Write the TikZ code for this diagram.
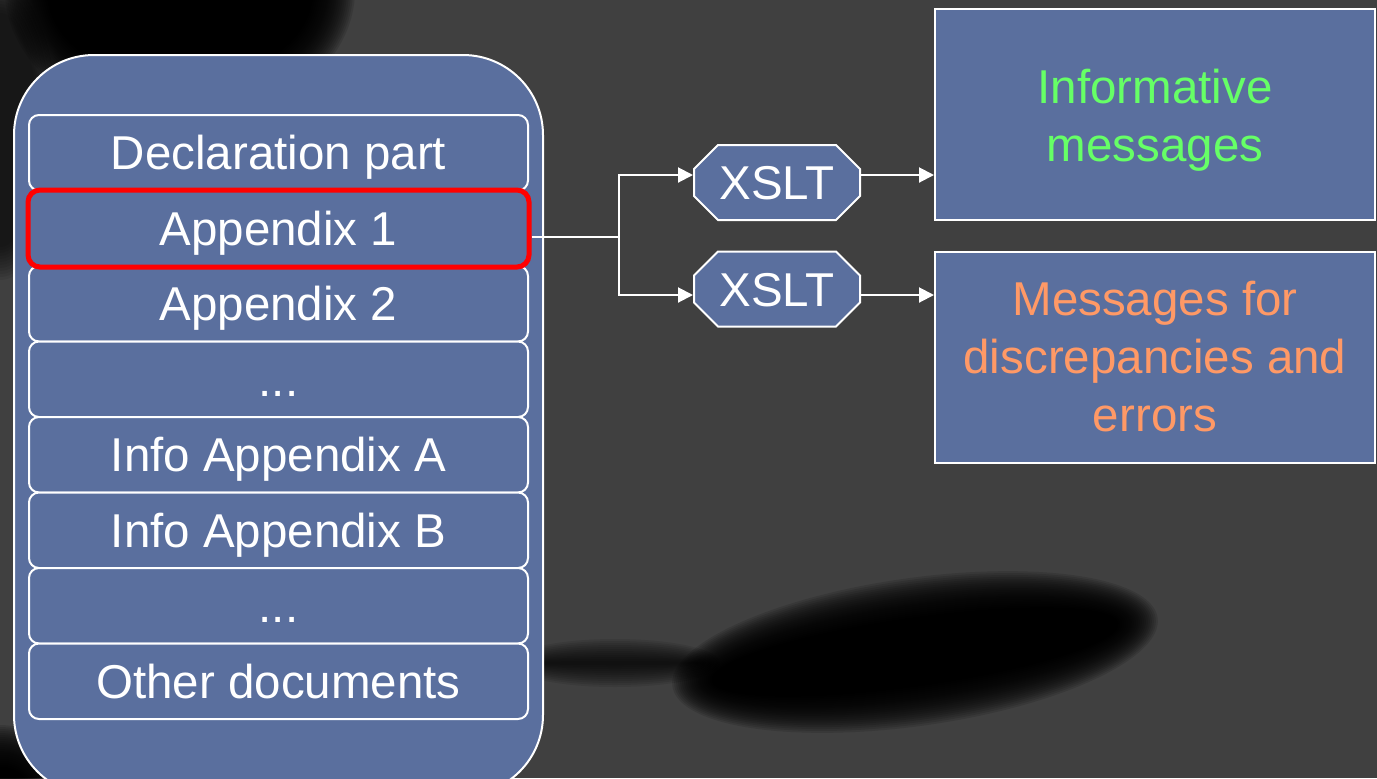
\documentclass[tikz,border=0pt]{standalone}
\usepackage{fontspec}
\setmainfont{Liberation Sans}
\usetikzlibrary{shapes.misc,arrows.meta}
\definecolor{bg}{HTML}{404040}
\definecolor{boxblue}{HTML}{5A6F9E}
\definecolor{msggreen}{HTML}{66FF66}
\definecolor{msgorange}{HTML}{FF9966}
\tikzset{
  container/.style={draw=white, line width=1pt, fill=boxblue, rounded corners=40pt,
    minimum width=264.5pt, minimum height=370pt, inner sep=0pt},
  rowbox/.style={draw=white, line width=1pt, fill=boxblue, rounded corners=5pt,
    minimum width=249.5pt, minimum height=37.75pt, inner sep=0pt, text=white,
    text height=17pt, text depth=0pt},
  hilite/.style={rowbox, draw=red, line width=2.5pt, rounded corners=6pt, minimum width=250.5pt, minimum height=38.5pt},
  xslt/.style={chamfered rectangle, chamfered rectangle xsep=11pt, draw=white, line width=1pt,
    fill=boxblue, minimum width=83pt, minimum height=37.5pt, inner sep=0pt, text=white,
    text height=17pt, text depth=0pt},
  msgbox/.style={draw=white, line width=1pt, fill=boxblue, minimum width=220pt,
    minimum height=105.5pt, inner sep=0pt, align=center},
  conn/.style={white, line width=1pt},
  arr/.style={conn, -{Triangle[length=7.5pt,width=7.5pt]}},
  haze/.style={black, opacity=#1},
  haze/.default=0.1
}
\begin{document}
\begin{tikzpicture}[x=0.5pt, y=-0.5pt, font=\fontsize{23.75}{29}\selectfont]
\useasboundingbox (0,0) rectangle (1377,778);
\begin{scope}
\clip (0,0) rectangle (1377,778);
\fill[bg] (0,0) rectangle (1377,778);
% background shadows (soft, built from stacked translucent ellipses)
\foreach \k in {0,...,11}
  \fill[haze=0.07] (0,130) ellipse ({60-2*\k} and {150-3*\k});
\foreach \k in {0,...,24}
  \fill[haze=0.11] (180,-10) ellipse ({175-2*\k} and {135-2*\k});
\foreach \k in {0,...,24}
  \fill[haze=0.11] (0,800) ellipse ({75-2*\k} and {75-2*\k});
\foreach \k in {0,...,11}
  \fill[haze=0.09] (615,663) ellipse ({105-2*\k} and {24-2*\k});
\begin{scope}[shift={(915,652)}, rotate=8]
\foreach \k in {0,...,22}
  \fill[haze=0.12] (0,0) ellipse ({245-2*\k} and {74-2*\k});
\end{scope}
% container
\node[container] (doc) at (278.5,425) {};
\end{scope}
% rows
\node[rowbox] (decl) at (278.5,152.75) {Declaration part};
\node[rowbox] (app2) at (278.5,303.75) {Appendix 2};
\node[rowbox] (dots1) at (278.5,379.25) {...};
\node[rowbox] (infoA) at (278.5,454.75) {Info Appendix A};
\node[rowbox] (infoB) at (278.5,530.25) {Info Appendix B};
\node[rowbox] (dots2) at (278.5,605.75) {...};
\node[rowbox] (other) at (278.5,681.25) {Other documents};
\node[hilite] (app1) at (278.5,228.5) {Appendix 1};
% XSLT steps
\node[xslt] (x1) at (777,182.5) {XSLT};
\node[xslt] (x2) at (777,289) {XSLT};
% message boxes
\node[msgbox, text=msggreen] (info) at (1155,114.5) {\rule{0pt}{22.5pt}Informative\\messages};
\node[msgbox, text=msgorange] (errs) at (1155,357) {Messages for\\discrepancies and\\errors};
% connectors
\coordinate (j) at (619,237);
\draw[conn] (app1.east |- j) -- (j);
\draw[arr] (j) |- ([yshift=3.75pt]x1.west);
\draw[arr] (j) |- ([yshift=-3pt]x2.west);
\draw[arr] ([yshift=3.75pt]x1.east) -- ([yshift=3.75pt]x1.east -| info.west);
\draw[arr] ([yshift=-3pt]x2.east) -- ([yshift=-3pt]x2.east -| errs.west);
\end{tikzpicture}
\end{document}
